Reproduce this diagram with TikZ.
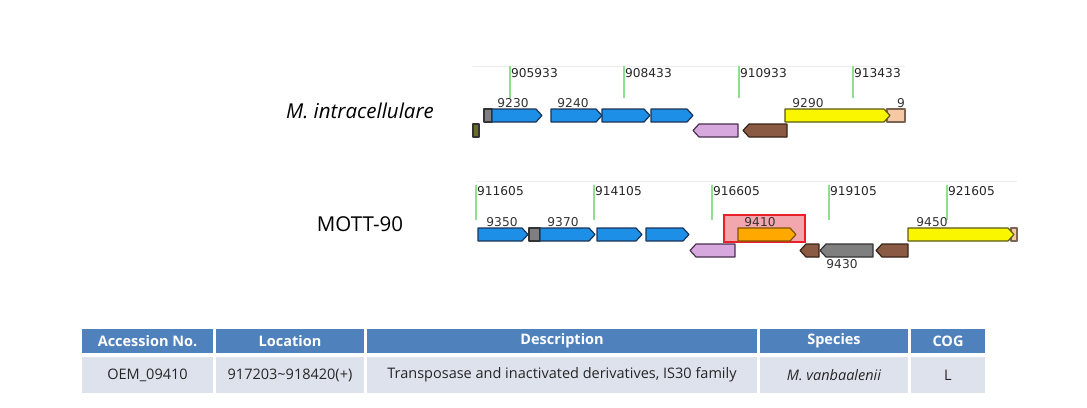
\documentclass[tikz,border=0pt]{standalone}
\usepackage{fontspec}
\setmainfont{Open Sans}
\newfontfamily\trackfont{DejaVu Sans}
\usetikzlibrary{positioning}
\definecolor{genblue}{RGB}{30,143,230}
\definecolor{genblueline}{RGB}{26,52,88}
\definecolor{genyellow}{RGB}{250,246,0}
\definecolor{genyellowline}{RGB}{90,90,16}
\definecolor{genlilac}{RGB}{214,168,222}
\definecolor{genlilacline}{RGB}{74,48,80}
\definecolor{genbrown}{RGB}{138,90,68}
\definecolor{genbrownline}{RGB}{58,36,24}
\definecolor{gengrey}{RGB}{127,127,127}
\definecolor{genorange}{RGB}{255,168,0}
\definecolor{genpeach}{RGB}{246,200,164}
\definecolor{genolive}{RGB}{107,107,42}
\definecolor{boxpink}{RGB}{242,167,174}
\definecolor{boxred}{RGB}{232,32,42}
\definecolor{tickgreen}{RGB}{142,224,142}
\definecolor{hdrblue}{RGB}{79,129,189}
\definecolor{rowgray}{RGB}{221,226,236}

\newcommand{\genef}[4]{\draw[gene,#4] (#1,#3) -- ({#2-6},#3) -- (#2,{#3+6.5}) -- ({#2-6},{#3+13}) -- (#1,{#3+13}) -- cycle;}
\newcommand{\gener}[4]{\draw[gene,#4] (#2,#3) -- ({#1+6},#3) -- (#1,{#3+6.5}) -- ({#1+6},{#3+13}) -- (#2,{#3+13}) -- cycle;}

\tikzset{
  gene/.style={line width=1.2pt, line join=round},
  bluegene/.style={fill=genblue, draw=genblueline},
  yellowgene/.style={fill=genyellow, draw=genyellowline},
  lilacgene/.style={fill=genlilac, draw=genlilacline},
  browngene/.style={fill=genbrown, draw=genbrownline},
  greygene/.style={fill=gengrey, draw=black!80},
  orangegene/.style={fill=genorange, draw=genorange!50!black},
  tickline/.style={draw=tickgreen, line width=1.2pt},
  ticklbl/.style={right, inner sep=1pt, font=\trackfont\fontsize{12.2}{12}\selectfont, text=black!85},
  genelbl/.style={inner sep=0pt, font=\trackfont\fontsize{12.2}{12}\selectfont, text=black!80},
  hcell/.style={fill=hdrblue, text=white, font=\fontsize{14.5}{16}\selectfont\bfseries, minimum height=24pt, inner sep=0pt},
  bcell/.style={fill=rowgray, text=black!85, font=\fontsize{14.5}{16}\selectfont, minimum height=36pt, inner sep=0pt}
}

\begin{document}
\begin{tikzpicture}[x=1pt, y=-1pt]
    \useasboundingbox (0,0) rectangle (1087,407);
    % organism labels
    \node[font=\fontsize{20.5}{24}\selectfont\itshape] (intra) at (360,111) {M. intracellulare};
    \node[font=\fontsize{20.5}{24}\selectfont] (mott) at (360,224) {MOTT-90};

    % track 1
    \draw[gray!15] (473,66) -- (905,66);
    \foreach \x/\lab in {510/905933, 624/908433, 739/910933, 853/913433} {
      \draw[tickline] (\x,66) -- (\x,98);
      \node[ticklbl] (t\lab) at (\x,73) {\lab};
    }
    \draw[gene, fill=genolive, draw=black!80] (473,124) rectangle (479,137);
    \draw[gene, fill=gengrey, draw=black!80] (484,109) rectangle (492,122);
    \genef{492}{542}{109}{bluegene}
    \genef{551}{602}{109}{bluegene}
    \genef{602}{650}{109}{bluegene}
    \genef{651}{693}{109}{bluegene}
    \gener{693}{738}{124}{lilacgene}
    \gener{743}{787}{124}{browngene}
    \draw[gene, fill=genpeach, draw=genpeach!50!black] (887,109) rectangle (905,122);
    \genef{785}{890}{109}{yellowgene}
    \node[genelbl] (g9230) at (513,103) {9230};
    \node[genelbl] (g9240) at (573,103) {9240};
    \node[genelbl] (g9290) at (808,103) {9290};
    \node[genelbl] (g9300) at (901,103) {9};

    % track 2
    \draw[gray!15] (476,181) -- (1017,181);
    \foreach \x/\lab in {476/911605, 594/914105, 712/916605, 829/919105, 947/921605} {
      \draw[tickline] (\x,185) -- (\x,220);
      \node[ticklbl] (t\lab) at (\x,191) {\lab};
    }
    \genef{478}{528}{228}{bluegene}
    \draw[gene, fill=gengrey, draw=black!80] (529,228) rectangle (540,241);
    \genef{540}{595}{228}{bluegene}
    \genef{597}{642}{228}{bluegene}
    \genef{646}{689}{228}{bluegene}
    \draw[fill=boxpink, draw=boxred, line width=2pt] (724,215) rectangle (805,242);
    \genef{738}{796}{228}{orangegene}
    \gener{690}{735}{244}{lilacgene}
    \gener{800}{819}{244}{browngene}
    \gener{820}{873}{244}{greygene}
    \gener{876}{908}{244}{browngene}
    \draw[gene, fill=genpeach, draw=genpeach!50!black] (1011,228) rectangle (1017,241);
    \genef{908}{1014}{228}{yellowgene}
    \node[genelbl] (g9350) at (502,222) {9350};
    \node[genelbl] (g9370) at (563,222) {9370};
    \node[genelbl] (g9410) at (760,222) {9410};
    \node[genelbl] (g9450) at (932,222) {9450};
    \node[genelbl] (g9430) at (842,264) {9430};

    % table
    \node[hcell, minimum width=131pt] (hacc) at (147.5,341) {Accession No.};
    \node[hcell, minimum width=148pt] (hloc) at (290,341) {Location};
    \node[hcell, minimum width=390pt] (hdesc) at (562,341) {Description};
    \node[hcell, minimum width=148pt] (hspec) at (834,341) {Species};
    \node[hcell, minimum width=74pt] (hcog) at (948,341) {COG};
    \node[bcell, minimum width=131pt] (bacc) at (147.5,375) {OEM\_09410};
    \node[bcell, minimum width=148pt] (bloc) at (290,375) {917203\textasciitilde918420(+)};
    \node[bcell, minimum width=390pt] (bdesc) at (562,375) {Transposase and inactivated derivatives, IS30 family};
    \node[bcell, minimum width=148pt] (bspec) at (834,375) {\itshape M. vanbaalenii};
    \node[bcell, minimum width=74pt] (bcog) at (948,375) {L};
  \end{tikzpicture}
\end{document}
